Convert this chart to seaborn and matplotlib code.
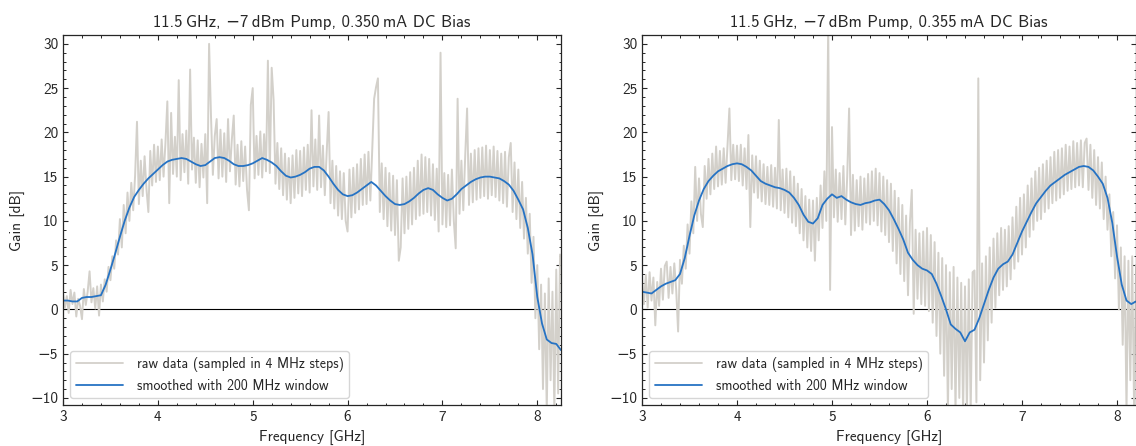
import numpy as np
import matplotlib
matplotlib.use("Agg")
import matplotlib.pyplot as plt
import seaborn as sns
from matplotlib.ticker import MultipleLocator

# raw data grid (20 MHz resolution of the 4 MHz sweep)
raw_freq_left = np.linspace(3.00, 8.24, 263)
raw_freq_right = np.linspace(3.00, 8.20, 261)
smooth_freq_left = np.linspace(3.00, 8.25, 106)
smooth_freq_right = np.linspace(3.00, 8.20, 105)

raw_left = [
    1.8, 0.2, 1.5, -0.4, 2.2, 0.6, 1.9, -0.8, 1.2, 0.4,
    -1.1, 2.3, 0.5, 2.0, 4.3, 0.8, 2.4, 0.1, 2.6, -0.7,
    2.8, 0.9, 3.4, 2.0, 4.8, 3.3, 6.0, 4.6, 7.8, 6.2,
    10.2, 7.0, 11.8, 8.6, 13.2, 10.0, 14.3, 11.2, 15.1, 21.2,
    11.9, 16.8, 12.8, 17.3, 13.6, 11.0, 17.9, 14.0, 18.6, 14.4,
    18.4, 14.6, 19.2, 15.0, 18.8, 23.5, 12.0, 22.2, 15.3, 19.5,
    15.0, 25.9, 14.6, 19.8, 15.5, 20.2, 14.2, 27.1, 15.8, 19.4,
    14.3, 19.1, 13.8, 18.7, 14.9, 19.8, 12.0, 30.0, 21.9, 15.2,
    19.6, 21.5, 14.8, 20.3, 15.0, 19.9, 14.4, 21.5, 15.6, 19.2,
    21.9, 14.1, 18.6, 13.9, 19.0, 14.5, 18.4, 13.5, 11.2, 23.1,
    25.0, 14.8, 19.6, 15.2, 20.1, 14.9, 19.8, 15.6, 28.1, 15.4,
    27.3, 23.7, 14.2, 18.8, 13.6, 18.2, 12.9, 17.6, 12.4, 17.1,
    12.0, 17.4, 12.6, 18.0, 13.1, 17.9, 12.8, 18.3, 13.5, 18.6,
    13.2, 22.5, 13.9, 19.2, 13.5, 21.9, 13.8, 18.5, 12.9, 17.8,
    22.3, 12.0, 16.8, 11.4, 16.2, 10.6, 15.6, 10.2, 15.4, 10.0,
    8.8, 15.8, 10.4, 16.0, 10.9, 16.4, 11.3, 17.0, 11.8, 17.5,
    11.9, 17.8, 12.3, 18.2, 23.8, 25.1, 26.1, 11.0, 16.5, 10.2,
    16.0, 9.4, 15.4, 8.9, 15.1, 8.4, 14.6, 5.5, 7.0, 14.8,
    8.6, 15.0, 9.1, 15.5, 9.6, 16.0, 10.2, 16.8, 10.6, 17.5,
    10.8, 17.2, 11.0, 17.0, 10.6, 16.4, 10.1, 15.9, 8.8, 29.0,
    9.6, 15.4, 9.3, 15.2, 9.5, 15.8, 10.0, 6.9, 23.8, 10.8,
    16.8, 11.2, 17.3, 22.7, 11.8, 17.6, 12.1, 18.0, 12.4, 18.2,
    12.6, 18.3, 12.8, 18.5, 12.5, 18.0, 12.9, 18.4, 12.7, 17.9,
    12.3, 17.6, 12.0, 17.8, 11.6, 17.2, 18.8, 11.0, 16.6, 10.2,
    15.8, 9.2, 14.4, 8.0, 12.6, 6.3, 10.8, 3.0, 8.2, -1.0,
    5.0, -4.5, 2.8, -9.0, 1.8, -11.5, 3.5, -8.0, 2.0, -11.5,
    4.5, -9.5, 6.2,
]

raw_right = [
    3.4, 0.6, 3.9, 0.2, 4.2, 1.0, 3.6, -1.8, 3.1, 0.4,
    4.6, 1.1, 4.9, 5.4, 1.3, 4.8, 1.8, 5.2, 2.2, -2.5,
    5.6, 2.9, 7.2, 4.6, 9.6, 6.3, 12.2, 8.6, 16.1, 10.0,
    14.8, 10.8, 9.3, 16.2, 12.5, 17.0, 13.0, 17.6, 13.6, 18.4,
    13.9, 17.9, 14.1, 18.2, 14.3, 18.4, 22.7, 14.6, 18.6, 14.7,
    18.5, 14.5, 18.6, 14.0, 18.2, 13.6, 19.7, 9.3, 17.4, 13.2,
    17.3, 12.6, 16.8, 12.2, 16.4, 11.9, 16.1, 11.8, 16.3, 11.6,
    16.0, 11.4, 21.4, 11.2, 15.8, 10.9, 15.9, 10.4, 15.6, 9.8,
    15.0, 9.4, 14.2, 8.6, 13.6, 7.8, 12.8, 7.0, 12.4, 6.6,
    12.3, 5.5, 12.6, 7.8, 14.0, 9.2, 15.6, 10.0, 32.0, 2.2,
    20.6, 10.4, 15.8, 9.9, 15.4, 10.2, 16.2, 9.6, 15.0, 22.7,
    8.4, 15.2, 8.9, 14.6, 9.4, 15.0, 9.0, 14.8, 9.8, 15.3,
    9.6, 15.6, 10.0, 15.9, 9.5, 15.4, 8.8, 15.0, 8.4, 14.6,
    7.6, 14.2, 6.6, 13.4, 5.2, 12.6, 4.0, 11.8, 3.2, 10.6,
    1.6, 9.8, 13.5, -0.5, 9.0, 1.2, 8.6, 0.6, 8.8, 0.4,
    9.2, -0.2, 8.4, -1.5, 7.6, -3.0, 6.4, -5.0, 5.8, -7.5,
    5.0, -11.5, 4.2, -9.0, 4.8, -11.5, 3.6, -10.0, 3.0, -11.5,
    2.6, -11.5, 3.4, -11.5, 4.2, 4.4, -10.5, 26.1, -8.0, 5.2,
    -6.0, 6.0, -3.5, 7.0, -1.5, 8.0, 0.2, 8.6, 1.6, 9.2,
    2.2, 9.0, 2.6, 9.4, 3.4, 10.4, 4.6, 11.6, 5.4, 12.6,
    6.2, 13.0, 7.0, 14.0, 8.2, 14.8, 9.0, 15.6, 10.0, 16.0,
    10.2, 16.4, 11.0, 16.8, 11.4, 17.2, 12.0, 17.8, 12.3, 18.0,
    12.6, 18.2, 13.0, 18.6, 13.4, 18.4, 13.6, 19.0, 13.8, 18.8,
    14.0, 19.1, 13.8, 18.8, 19.3, 13.5, 18.6, 12.6, 18.0, 11.8,
    17.2, 11.4, 16.6, 10.2, 15.0, 9.0, 13.0, 6.0, 11.0, 3.5,
    9.5, 0.0, 7.0, -4.0, 6.0, -11.5, 5.5, -8.0, 6.0, -11.5,
    5.0,
]

smooth_left = [
    1.0, 1.0, 0.9, 0.9, 1.3, 1.4, 1.4, 1.5, 1.6, 2.8,
    4.5, 6.3, 8.2, 10.0, 11.5, 12.7, 13.5, 14.2, 14.8, 15.3,
    15.8, 16.3, 16.7, 16.9, 17.0, 17.1, 17.0, 16.7, 16.4, 16.2,
    16.3, 16.7, 17.1, 17.2, 17.1, 16.8, 16.4, 16.2, 16.2, 16.3,
    16.5, 16.8, 17.1, 16.9, 16.6, 16.2, 15.6, 15.1, 14.9, 15.0,
    15.2, 15.5, 15.9, 16.1, 16.1, 15.7, 15.0, 14.2, 13.5, 13.0,
    12.8, 12.9, 13.2, 13.6, 14.0, 14.4, 14.0, 13.4, 12.8, 12.3,
    11.9, 11.8, 11.9, 12.2, 12.6, 13.1, 13.5, 13.7, 13.5, 13.0,
    12.6, 12.3, 12.5, 13.0, 13.6, 14.0, 14.4, 14.7, 14.9, 15.0,
    15.0, 14.9, 14.8, 14.5, 14.1, 13.4, 12.4, 11.3, 9.2, 6.2,
    1.4, -1.6, -3.4, -3.8, -3.9, -4.6,
]

smooth_right = [
    2.0, 1.9, 1.8, 2.2, 2.6, 2.9, 3.1, 3.3, 4.0, 5.8,
    8.3, 10.6, 12.3, 13.6, 14.5, 15.1, 15.6, 15.9, 16.2, 16.4,
    16.5, 16.4, 16.1, 15.7, 15.1, 14.5, 14.2, 14.0, 13.8, 13.7,
    13.5, 13.2, 12.6, 11.8, 10.7, 9.9, 9.7, 10.3, 11.8, 12.5,
    13.0, 12.6, 12.8, 12.4, 12.1, 11.9, 11.8, 12.0, 12.1, 12.3,
    12.4, 11.9, 11.2, 10.2, 9.1, 7.9, 6.4, 5.6, 5.0, 4.6,
    4.4, 4.0, 2.9, 1.5, 0.0, -1.7, -2.2, -2.6, -3.6, -2.6,
    -2.3, -1.0, 0.6, 2.2, 3.6, 4.6, 5.1, 5.4, 6.2, 7.5,
    8.8, 9.9, 11.0, 12.0, 12.7, 13.4, 14.0, 14.4, 14.8, 15.2,
    15.5, 15.8, 16.1, 16.2, 16.1, 15.7, 15.0, 14.2, 12.6, 9.8,
    6.0, 2.8, 1.0, 0.6, 0.9,
]

titles = [
    "11.5\u2009GHz, \u22127\u2009dBm Pump, 0.350\u2009mA DC Bias",
    "11.5\u2009GHz, \u22127\u2009dBm Pump, 0.355\u2009mA DC Bias",
]
xlims = [(3.0, 8.25), (3.0, 8.2)]

sns.set_theme(style="ticks")
plt.rcParams["font.family"] = ["cmss10", "DejaVu Sans"]
plt.rcParams["axes.unicode_minus"] = True
plt.rcParams["font.size"] = 11

raw_color = "#d3d0ca"
smooth_color = "#2673c4"

fig = plt.figure(figsize=(11.36, 4.46), dpi=100)
ax_left = fig.add_axes([63 / 1136, 41 / 446, 498 / 1136, 370 / 446])
ax_right = fig.add_axes([642 / 1136, 41 / 446, 494 / 1136, 370 / 446])

panels = [
    (ax_left, raw_freq_left, raw_left, smooth_freq_left, smooth_left),
    (ax_right, raw_freq_right, raw_right, smooth_freq_right, smooth_right),
]

for i, (ax, rf, rv, sf, sv) in enumerate(panels):
    sns.lineplot(x=rf, y=rv, ax=ax, color=raw_color, linewidth=1.4,
                 label="raw data (sampled in 4 MHz steps)")
    sns.lineplot(x=sf, y=sv, ax=ax, color=smooth_color, linewidth=1.3,
                 label="smoothed with 200 MHz window")
    ax.axhline(0, color="black", linewidth=0.8, zorder=1.5)

    ax.set_xlim(*xlims[i])
    ax.set_ylim(-10.8, 31.0)
    ax.xaxis.set_major_locator(MultipleLocator(1))
    ax.xaxis.set_minor_locator(MultipleLocator(0.2))
    ax.yaxis.set_major_locator(MultipleLocator(5))
    ax.yaxis.set_minor_locator(MultipleLocator(1))
    ax.tick_params(which="both", direction="in", top=True, right=True, labelsize=11)
    ax.tick_params(which="major", length=3.5, width=0.8)
    ax.tick_params(which="minor", length=1.8, width=0.7)
    for s in ax.spines.values():
        s.set_linewidth(0.9)

    ax.set_title(titles[i], fontsize=12)
    ax.set_xlabel("Frequency [GHz]", fontsize=11)
    ax.set_ylabel("Gain [dB]", fontsize=11)
    leg = ax.legend(loc="lower left", fontsize=10, framealpha=0.8,
                    edgecolor="#cccccc", handlelength=3.4, handletextpad=1.0)
    for line in leg.get_lines():
        line.set_linewidth(1.3)

fig.savefig("out.png", dpi=100)
